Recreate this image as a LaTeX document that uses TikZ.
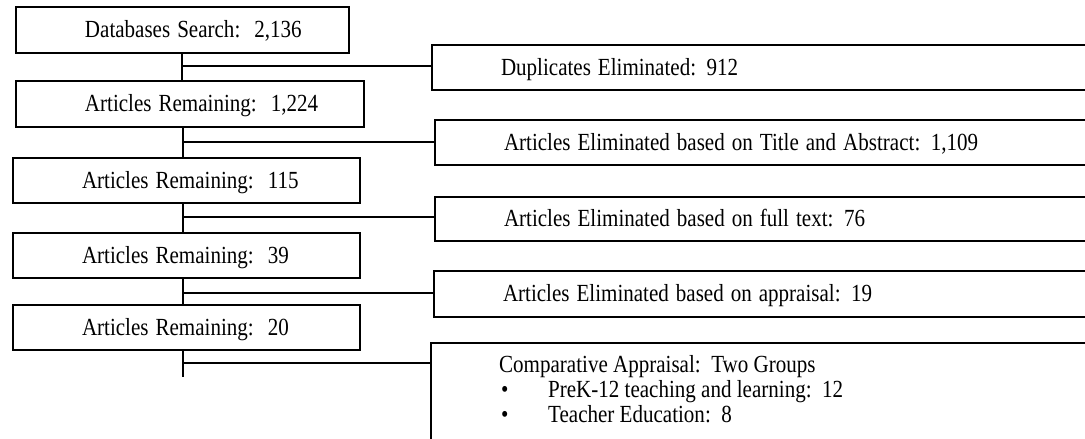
\documentclass[tikz,border=0pt]{standalone}
\usepackage{graphicx}
\usepackage{fontspec}
\setmainfont{Liberation Serif}
\newcommand{\hsq}[1]{\scalebox{0.855}[1]{#1}}
\begin{document}
\begin{tikzpicture}[x=1pt,y=-1pt,
  every node/.style={font=\fontsize{24.6pt}{25.3pt}\selectfont},
  box/.style={draw, line width=2pt, anchor=north west, inner xsep=0pt, inner ysep=0pt,
    align=left, text height=15.5pt, text depth=0pt},
  txt/.style={anchor=base west, inner sep=0pt},
  link/.style={line width=2pt}]
\useasboundingbox (0,0) rectangle (1085,439);
\clip (0,0) rectangle (1085,439);
% left column
\node[box, text width=333pt, minimum height=46pt] (b1) at (15,6) {\hspace*{69pt}\hsq{Databases Search:\ \ 2,136}};
\node[box, text width=348pt, minimum height=46pt] (b2) at (15,80) {\hspace*{69pt}\hsq{Articles Remaining:\ \ 1,224}};
\node[box, text width=347pt, minimum height=45pt] (b3) at (12,157) {\hspace*{69pt}\hsq{Articles Remaining:\ \ 115}};
\node[box, text width=347pt, minimum height=45pt] (b4) at (12,232) {\hspace*{69pt}\hsq{Articles Remaining:\ \ 39}};
\node[box, text width=347pt, minimum height=45pt] (b5) at (12,304) {\hspace*{69pt}\hsq{Articles Remaining:\ \ 20}};
% right column
\node[box, text width=679pt, minimum height=45pt] (r1) at (431,44) {\hspace*{69pt}\hsq{Duplicates Eliminated: 912}};
\node[box, text width=676pt, minimum height=45pt] (r2) at (434,119) {\hspace*{69pt}\hsq{Articles Eliminated based on Title and Abstract: 1,109}};
\node[box, text width=676pt, minimum height=44pt] (r3) at (434,196) {\hspace*{69pt}\hsq{Articles Eliminated based on full text: 76}};
\node[box, text width=677pt, minimum height=46pt] (r4) at (433,270) {\hspace*{69pt}\hsq{Articles Eliminated based on appraisal: 19}};
\node[draw, line width=2pt, anchor=north west, inner sep=0pt,
  minimum width=680pt, minimum height=120pt] (r5) at (430,342) {};
\node[txt] (t5a) at (499,372) {\hsq{Comparative Appraisal:\ \ Two Groups}};
\node[txt] (t5b) at (501,397) {\hsq{\textbullet}};
\node[txt] (t5c) at (548,397) {\hsq{PreK-12 teaching and learning:\ \ 12}};
\node[txt] (t5d) at (501,422) {\hsq{\textbullet}};
\node[txt] (t5e) at (548,422) {\hsq{Teacher Education:\ \ 8}};
% spine
\coordinate (s1) at (182,66);
\coordinate (s2) at (183,142);
\coordinate (s3) at (183,217);
\coordinate (s4) at (183,293);
\coordinate (s5) at (183,363);
\coordinate (end) at (183,377);
\draw[link] (b1.south -| s1) -- (b2.north -| s1);
\draw[link] (b2.south -| s2) -- (b3.north -| s2);
\draw[link] (b3.south -| s3) -- (b4.north -| s3);
\draw[link] (b4.south -| s4) -- (b5.north -| s4);
\draw[link] (b5.south -| s5) -- (end);
\draw[link] (s1) -- (s1 -| r1.west);
\draw[link] (s2) -- (s2 -| r2.west);
\draw[link] (s3) -- (s3 -| r3.west);
\draw[link] (s4) -- (s4 -| r4.west);
\draw[link] (s5) -- (s5 -| r5.west);
\end{tikzpicture}
\end{document}
